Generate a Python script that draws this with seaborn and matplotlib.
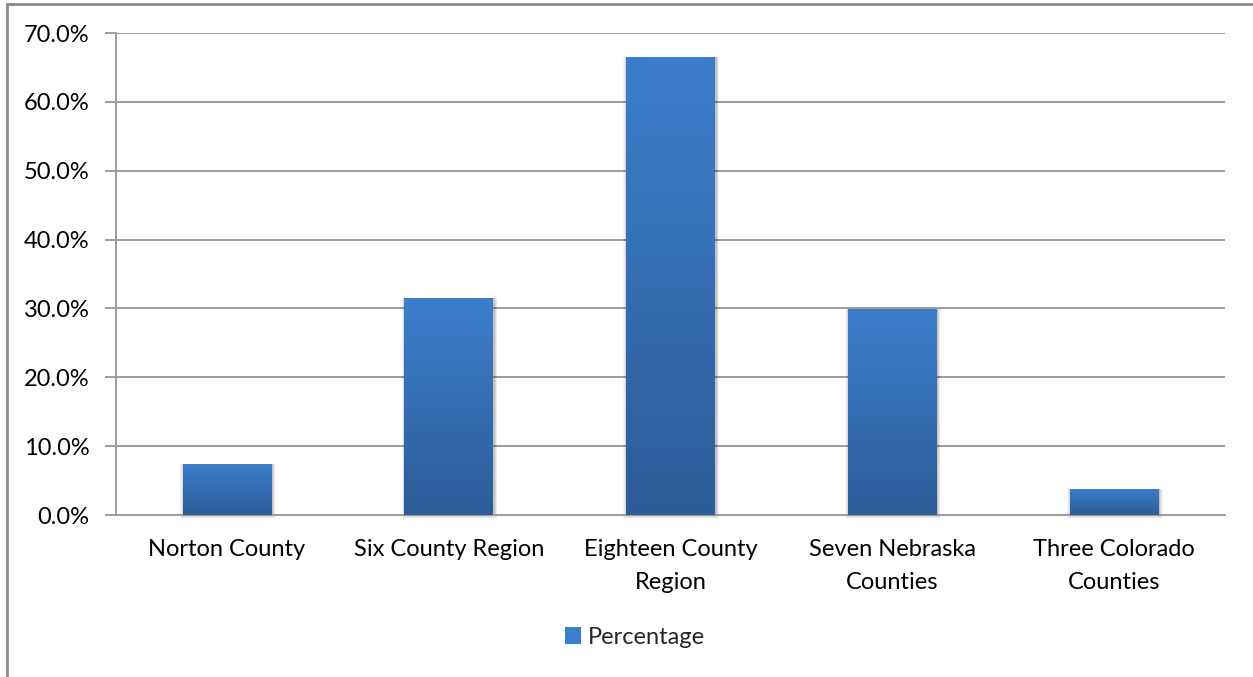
import matplotlib
matplotlib.use("Agg")
import matplotlib.pyplot as plt
import matplotlib.patches as mpatches
from matplotlib.ticker import PercentFormatter, FixedLocator
import numpy as np
import pandas as pd
import seaborn as sns

regions = ["Norton County", "Six County Region", "Eighteen County\nRegion",
           "Seven Nebraska\nCounties", "Three Colorado\nCounties"]
percentage = [0.074, 0.315, 0.665, 0.299, 0.038]
series_name = "Percentage"

df = pd.DataFrame({"Region": regions, series_name: percentage})

sns.set_theme(style="white")
plt.rcParams["font.family"] = ["Lato", "DejaVu Sans"]

TOP_COLOR = np.array([61, 126, 204]) / 255
BOTTOM_COLOR = np.array([44, 92, 152]) / 255
GRID = "#9c9c9c"
FS = 17

fig = plt.figure(figsize=(12.53, 6.77), dpi=100)
ax = fig.add_axes([116 / 1253, 1 - 515 / 677, (1225 - 116) / 1253, (515 - 33) / 677])

sns.barplot(data=df, x="Region", y=series_name, ax=ax, width=0.4,
            color=TOP_COLOR, saturation=1, zorder=3)

ax.set_xlim(-0.5, len(regions) - 0.5)
ax.set_ylim(0, 0.70)
ax.yaxis.set_major_locator(FixedLocator(np.arange(0, 0.701, 0.1)))
ax.yaxis.set_major_formatter(PercentFormatter(1.0, decimals=1))
ax.grid(axis="y", color=GRID, linewidth=1.4, zorder=0)
ax.set_axisbelow(True)

# gradient fill and soft shadow for each bar
grad = np.linspace(0, 1, 256)[:, None]
cmap = matplotlib.colors.LinearSegmentedColormap.from_list(
    "bar", [BOTTOM_COLOR, TOP_COLOR])
for p in list(ax.patches):
    x0, y0 = p.get_x(), p.get_y()
    w, h = p.get_width(), p.get_height()
    for k, a in zip(range(1, 5), [0.10, 0.07, 0.05, 0.03]):
        dx = 0.004 * k
        dy = 0.0015 * k
        sh = mpatches.Rectangle((x0 - dx + 0.004, y0 - dy), w + 2 * dx, h + dy,
                                facecolor="black", edgecolor="none",
                                alpha=a, zorder=2, clip_on=False)
        ax.add_patch(sh)
    im = ax.imshow(grad, cmap=cmap, origin="lower", aspect="auto",
                   extent=(x0, x0 + w, y0, y0 + h), zorder=3)
    im.set_clip_path(p)
    p.set_facecolor("none")
    p.set_edgecolor("none")
ax.set_xlim(-0.5, len(regions) - 0.5)
ax.set_ylim(0, 0.70)

for side in ["top", "right"]:
    ax.spines[side].set_visible(False)
ax.spines["left"].set_color(GRID)
ax.spines["left"].set_linewidth(1.4)
ax.spines["bottom"].set_color(GRID)
ax.spines["bottom"].set_linewidth(1.4)

ax.set_xlabel("")
ax.set_ylabel("")
ax.tick_params(axis="x", which="major", length=0, pad=17, labelsize=FS,
               labelcolor="black")
ax.xaxis.set_minor_locator(FixedLocator(np.arange(-0.5, len(regions), 1.0)))
ax.tick_params(axis="x", which="minor", length=8, width=1.4, color=GRID,
               direction="out")
ax.tick_params(axis="y", length=8, width=1.4, color=GRID, direction="out",
               left=True, pad=11, labelsize=FS, labelcolor="black")
for lbl in ax.get_xticklabels():
    lbl.set_linespacing(1.7)
    lbl.set_verticalalignment("top")

# legend below the plot
handle = mpatches.Patch(facecolor=TOP_COLOR, edgecolor="none", label=series_name)
fig.legend(handles=[handle], loc="center", bbox_to_anchor=(635 / 1253, 1 - 637 / 677),
           frameon=False, fontsize=FS, handlelength=0.7, handleheight=0.7,
           handletextpad=0.3)

# outer chart frame
frame = mpatches.Rectangle((7 / 1253, -0.01), 1.2, 1 - 4 / 677 + 0.01,
                           transform=fig.transFigure, fill=False,
                           edgecolor="#8a8a8a", linewidth=2.0, clip_on=False)
fig.add_artist(frame)

fig.savefig("out.png", dpi=100)
